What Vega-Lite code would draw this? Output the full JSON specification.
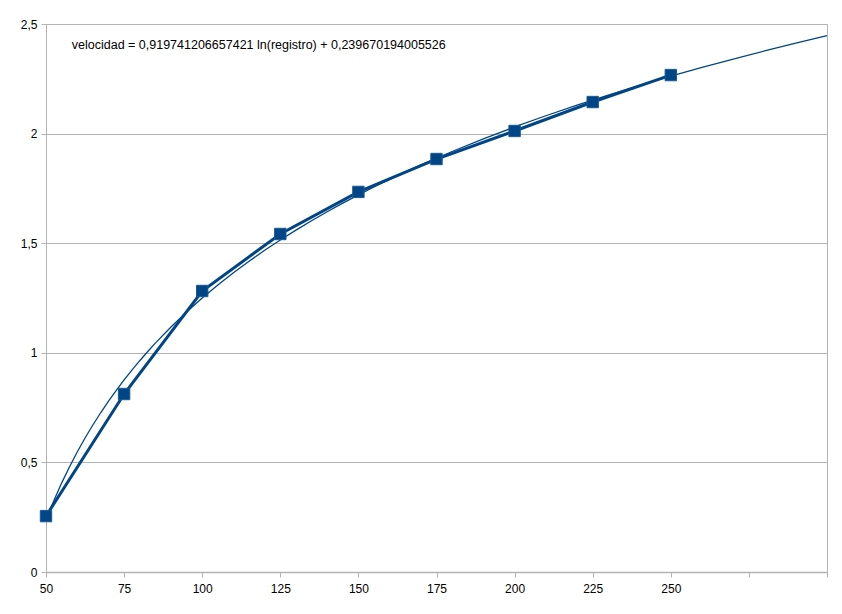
{
  "$schema": "https://vega.github.io/schema/vega-lite/v6.json",
  "width": 781,
  "height": 548,
  "padding": {"left": 46, "top": 24, "right": 15, "bottom": 42},
  "autosize": {"type": "none"},
  "background": "white",
  "config": {
    "font": "Liberation Sans",
    "view": {"stroke": "#b3b3b3", "strokeWidth": 1},
    "axis": {
      "domainColor": "#b3b3b3",
      "tickColor": "#b3b3b3",
      "gridColor": "#b3b3b3",
      "labelColor": "#000000",
      "labelFont": "Liberation Sans",
      "labelFontSize": 12,
      "title": null
    }
  },
  "data": {
    "values": [
      {"n": 1, "registro": 50, "velocidad": 0.255},
      {"n": 2, "registro": 75, "velocidad": 0.812},
      {"n": 3, "registro": 100, "velocidad": 1.282},
      {"n": 4, "registro": 125, "velocidad": 1.542},
      {"n": 5, "registro": 150, "velocidad": 1.734},
      {"n": 6, "registro": 175, "velocidad": 1.884},
      {"n": 7, "registro": 200, "velocidad": 2.012},
      {"n": 8, "registro": 225, "velocidad": 2.144},
      {"n": 9, "registro": 250, "velocidad": 2.267}
    ]
  },
  "encoding": {
    "x": {
      "field": "n",
      "type": "quantitative",
      "scale": {"domain": [1, 11], "nice": false, "zero": false},
      "axis": {
        "values": [1, 2, 3, 4, 5, 6, 7, 8, 9, 10, 11],
        "labelExpr": "datum.value <= 9 ? format(datum.value * 25 + 25, 'd') : ''",
        "grid": false,
        "tickSize": 5,
        "labelPadding": 6,
        "domainWidth": 1.5,
        "labelFlush": false
      }
    },
    "y": {
      "field": "velocidad",
      "type": "quantitative",
      "scale": {"domain": [0, 2.5], "nice": false},
      "axis": {
        "values": [0, 0.5, 1, 1.5, 2, 2.5],
        "labelExpr": "replace(format(datum.value, ''), '.', ',')",
        "grid": true,
        "tickSize": 5,
        "labelPadding": 4,
        "domainWidth": 1
      }
    }
  },
  "layer": [
    {
      "transform": [
        {"regression": "velocidad", "on": "n", "method": "log", "extent": [1, 11]}
      ],
      "mark": {"type": "line", "color": "#004586", "strokeWidth": 1.3}
    },
    {
      "mark": {"type": "line", "color": "#004586", "strokeWidth": 3}
    },
    {
      "mark": {"type": "point", "shape": "square", "filled": true, "size": 130, "color": "#004586", "opacity": 1, "stroke": "#1a5a94", "strokeWidth": 1}
    },
    {
      "data": {"values": [{"n": 1.33, "velocidad": 2.405, "label": "velocidad = 0,919741206657421 ln(registro) + 0,239670194005526"}]},
      "mark": {"type": "text", "align": "left", "baseline": "middle", "fontSize": 12.5, "font": "Liberation Sans", "color": "#000000"},
      "encoding": {"text": {"field": "label"}}
    }
  ]
}
